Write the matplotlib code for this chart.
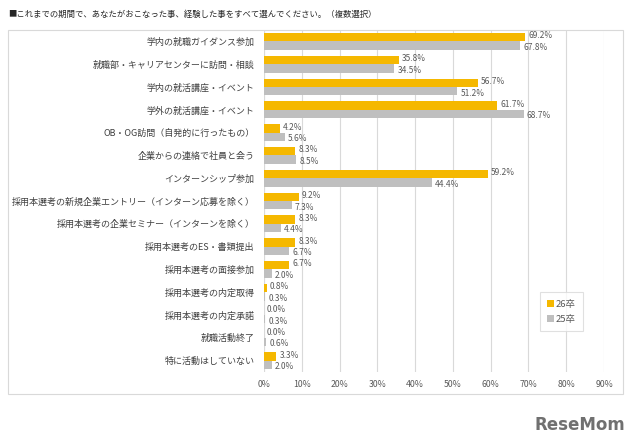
import numpy as np
import matplotlib.pyplot as plt
from matplotlib.patches import Rectangle

plt.rcParams['font.family'] = ['Noto Sans CJK JP', 'DejaVu Sans']

categories = [
    "学内の就職ガイダンス参加",
    "就職部・キャリアセンターに訪問・相談",
    "学内の就活講座・イベント",
    "学外の就活講座・イベント",
    "OB・OG訪問（自発的に行ったもの）",
    "企業からの連絡で社員と会う",
    "インターンシップ参加",
    "採用本選考の新規企業エントリー（インターン応募を除く）",
    "採用本選考の企業セミナー（インターンを除く）",
    "採用本選考のES・書類提出",
    "採用本選考の面接参加",
    "採用本選考の内定取得",
    "採用本選考の内定承諾",
    "就職活動終了",
    "特に活動はしていない",
]
v26 = [69.2, 35.8, 56.7, 61.7, 4.2, 8.3, 59.2, 9.2, 8.3, 8.3, 6.7, 0.8, 0.0, 0.0, 3.3]
v25 = [67.8, 34.5, 51.2, 68.7, 5.6, 8.5, 44.4, 7.3, 4.4, 6.7, 2.0, 0.3, 0.3, 0.6, 2.0]
xticks = [0, 10, 20, 30, 40, 50, 60, 70, 80, 90]

c26 = "#F5B800"
c25 = "#BFBFBF"
tc = "#595959"

fig = plt.figure(figsize=(6.4, 4.44), dpi=100)
fig.patches.append(Rectangle((8 / 640, 1 - 394 / 444), 615 / 640, 364 / 444,
                             transform=fig.transFigure, fill=False,
                             edgecolor="#D9D9D9", linewidth=0.8))
fig.text(8 / 640, 1 - 14 / 444,
         "■これまでの期間で、あなたがおこなった事、経験した事をすべて選んでください。（複数選択）",
         fontsize=6.0, color="#262626", va="center", ha="left")

ax = fig.add_axes([264 / 640, 1 - 372 / 444, 340 / 640, 342 / 444])
y = np.arange(len(categories))
h = 0.37
ax.barh(y - h / 2, v26, height=h, color=c26, label="26卒", zorder=3)
ax.barh(y + h / 2, v25, height=h, color=c25, label="25卒", zorder=3)

for i in range(len(categories)):
    ax.text(v26[i] + 0.8, y[i] - 0.24, f"{v26[i]:.1f}%", fontsize=6,
            color=tc, va="center", ha="left")
    ax.text(v25[i] + 0.8, y[i] + 0.27, f"{v25[i]:.1f}%", fontsize=6,
            color=tc, va="center", ha="left")

ax.set_xlim(0, 90)
ax.set_ylim(len(categories) - 0.5, -0.5)
ax.set_xticks(xticks)
ax.set_xticklabels([f"{t}%" for t in xticks], fontsize=6.3, color=tc)
ax.set_yticks(y)
ax.set_yticklabels(categories, fontsize=6.5, color="#404040")
ax.tick_params(length=0)
ax.tick_params(axis="x", pad=6)
ax.tick_params(axis="y", pad=7)
ax.grid(axis="x", color="#D9D9D9", linewidth=0.8, zorder=0)
for s in ax.spines.values():
    s.set_visible(False)
ax.axvline(0, color="#D9D9D9", linewidth=0.8, zorder=1)

leg = ax.legend(loc="lower right", bbox_to_anchor=((585 - 264) / 340, (372 - 333) / 342),
                fontsize=6.8, frameon=True, handlelength=0.7, handleheight=0.7,
                handletextpad=0.2, borderpad=0.5, labelspacing=0.6)
leg.get_frame().set_edgecolor("#D9D9D9")
leg.get_frame().set_linewidth(0.8)
leg.get_frame().set_boxstyle("square")
for t in leg.get_texts():
    t.set_color(tc)

fig.text(625 / 640, 1 - 425 / 444, "ReseMom", fontsize=12, fontweight="bold",
         color="#707070", ha="right", va="center", family="DejaVu Sans")

fig.savefig("out.png", dpi=100)
